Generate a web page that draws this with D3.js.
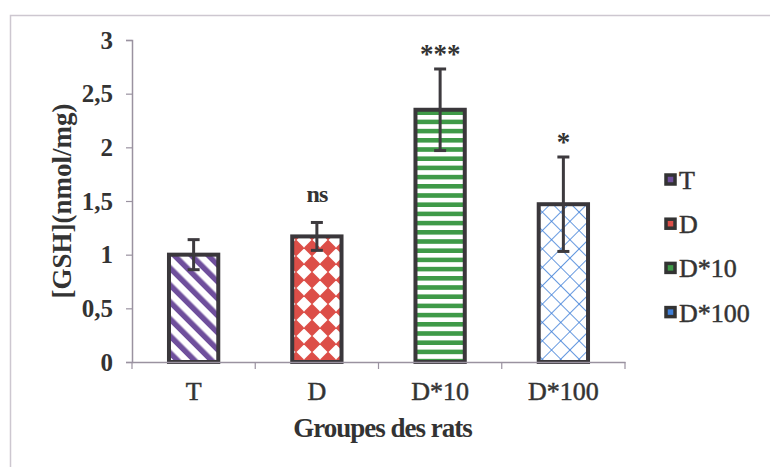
<!DOCTYPE html>
<html>
<head>
<meta charset="utf-8">
<script src="https://cdn.jsdelivr.net/npm/d3@7"></script>
<style>
  body { margin: 0; background: #fff; }
  svg { display: block; }
  text { font-family: "Liberation Serif", "DejaVu Serif", serif; fill: #333; }
</style>
</head>
<body>
<div id="chart"></div>
<script>
// GSH levels per rat group, with error bars and significance marks
const groups = ['T', 'D', 'D*10', 'D*100'];
const means = [1.0, 1.17, 2.35, 1.47];
const errors = [0.14, 0.13, 0.38, 0.44];
const signif = ['', 'ns', '***', '*'];
const yTicks = [0, 0.5, 1, 1.5, 2, 2.5, 3];

const width = 770;
const height = 467;
const margin = { top: 40, right: 145, bottom: 105, left: 132 };

const colors = {
    'T': '#6f4f9c',
    'D': '#dc4e48',
    'D*10': '#3f9a48',
    'D*100': '#3f7fd8'
};

const svg = d3.select('#chart')
    .append('svg')
    .attr('width', width)
    .attr('height', height);

// outer frame
svg.append('rect')
    .attr('x', 10.5).attr('y', 15.5)
    .attr('width', 780).attr('height', 480)
    .attr('fill', 'none')
    .attr('stroke', '#cdc7d0')
    .attr('stroke-width', 1.5);

// patterns
const defs = svg.append('defs');

// T: diagonal stripes (\)
const pT = defs.append('pattern')
    .attr('id', 'pat-T')
    .attr('patternUnits', 'userSpaceOnUse')
    .attr('width', 12).attr('height', 12)
    .attr('patternTransform', 'rotate(-45)');
pT.append('rect').attr('width', 12).attr('height', 12).attr('fill', '#fff');
pT.append('rect').attr('x', 0).attr('width', 5.5).attr('height', 12).attr('fill', colors['T']);

// D: diamonds
const pD = defs.append('pattern')
    .attr('id', 'pat-D')
    .attr('patternUnits', 'userSpaceOnUse')
    .attr('width', 16).attr('height', 16);
pD.append('rect').attr('width', 16).attr('height', 16).attr('fill', '#fff');
pD.append('path').attr('d', 'M8,-0.5 L16.5,8 L8,16.5 L-0.5,8 Z').attr('fill', colors['D']);

// D*10: horizontal stripes
const p10 = defs.append('pattern')
    .attr('id', 'pat-D*10')
    .attr('patternUnits', 'userSpaceOnUse')
    .attr('width', 8).attr('height', 9.2);
p10.append('rect').attr('width', 8).attr('height', 9.2).attr('fill', '#fff');
p10.append('rect').attr('y', 0).attr('width', 8).attr('height', 4.6).attr('fill', colors['D*10']);

// D*100: crosshatch
const p100 = defs.append('pattern')
    .attr('id', 'pat-D*100')
    .attr('patternUnits', 'userSpaceOnUse')
    .attr('width', 13).attr('height', 13)
    .attr('patternTransform', 'rotate(45)');
p100.append('rect').attr('width', 13).attr('height', 13).attr('fill', '#fff');
p100.append('line').attr('x1', 0).attr('y1', 0).attr('x2', 0).attr('y2', 13)
    .attr('stroke', colors['D*100']).attr('stroke-width', 1.6);
p100.append('line').attr('x1', 0).attr('y1', 0).attr('x2', 13).attr('y2', 0)
    .attr('stroke', colors['D*100']).attr('stroke-width', 1.6);

// scales
const x = d3.scaleBand()
    .domain(groups)
    .range([margin.left, width - margin.right]);

const y = d3.scaleLinear()
    .domain([0, 3])
    .range([height - margin.bottom, margin.top]);

const barW = x.bandwidth() * 0.4;
const data = groups.map((g, i) => ({ g, m: means[i], e: errors[i], s: signif[i] }));

// y axis
const yAxis = svg.append('g')
    .attr('transform', `translate(${margin.left},0)`)
    .call(d3.axisLeft(y).tickValues(yTicks).tickSize(6).tickPadding(13)
        .tickFormat(d => String(d).replace('.', ',')));
yAxis.select('.domain').attr('stroke', '#9a92a0').attr('stroke-width', 1.5);
yAxis.selectAll('.tick line').attr('stroke', '#9a92a0').attr('stroke-width', 1.2);
yAxis.selectAll('.tick text')
    .attr('font-size', 25)
    .attr('font-weight', 'bold')
    .attr('font-family', '"Liberation Serif", serif')
    .attr('fill', '#383838');

// bars
svg.append('g')
    .selectAll('rect')
    .data(data)
    .enter()
    .append('rect')
    .attr('x', d => x(d.g) + (x.bandwidth() - barW) / 2)
    .attr('y', d => y(d.m))
    .attr('width', barW)
    .attr('height', d => y(0) - y(d.m))
    .attr('fill', d => `url(#pat-${d.g})`)
    .attr('stroke', '#3a373b')
    .attr('stroke-width', 4);

// x axis (after bars so baseline sits over them)
const xAxis = svg.append('g')
    .attr('transform', `translate(0,${y(0)})`)
    .call(d3.axisBottom(x).tickSize(0).tickPadding(20));
xAxis.select('.domain').attr('stroke', '#9a92a0').attr('stroke-width', 1.5);
xAxis.selectAll('.tick text')
    .attr('font-size', 26)
    .attr('font-family', '"Liberation Serif", serif')
    .attr('fill', '#383838')
    .attr('stroke', '#383838')
    .attr('stroke-width', 0.5);
xAxis.selectAll('.bound')
    .data(groups.concat(['end']))
    .enter()
    .append('line')
    .attr('class', 'bound')
    .attr('x1', (d, i) => i < groups.length ? x(d) : x(groups[groups.length - 1]) + x.bandwidth())
    .attr('x2', (d, i) => i < groups.length ? x(d) : x(groups[groups.length - 1]) + x.bandwidth())
    .attr('y1', 0).attr('y2', 7)
    .attr('stroke', '#9a92a0').attr('stroke-width', 1.2);

// error bars
const eb = svg.append('g')
    .attr('stroke', '#3d3a3e')
    .attr('stroke-width', 3);
data.forEach(d => {
    const cx = x(d.g) + x.bandwidth() / 2;
    eb.append('line').attr('x1', cx).attr('x2', cx).attr('y1', y(d.m - d.e)).attr('y2', y(d.m + d.e));
    eb.append('line').attr('x1', cx - 6).attr('x2', cx + 6).attr('y1', y(d.m + d.e)).attr('y2', y(d.m + d.e));
    eb.append('line').attr('x1', cx - 6).attr('x2', cx + 6).attr('y1', y(d.m - d.e)).attr('y2', y(d.m - d.e));
});

// significance labels
svg.append('g')
    .selectAll('text')
    .data(data.filter(d => d.s))
    .enter()
    .append('text')
    .attr('x', d => x(d.g) + x.bandwidth() / 2)
    .attr('y', d => y(d.m + d.e) - (d.s === 'ns' ? 20 : 6))
    .attr('text-anchor', 'middle')
    .attr('font-size', d => d.s === 'ns' ? 24 : 27)
    .attr('font-weight', 'bold')
    .attr('letter-spacing', d => d.s === 'ns' ? -1 : 0)
    .attr('fill', '#3a3a3a')
    .text(d => d.s);

// axis titles
svg.append('text')
    .attr('x', (margin.left + width - margin.right) / 2 + 4)
    .attr('y', 437)
    .attr('text-anchor', 'middle')
    .attr('font-size', 27)
    .attr('font-weight', 'bold')
    .attr('letter-spacing', -1)
    .attr('fill', '#444')
    .text('Groupes des rats');

svg.append('text')
    .attr('transform', `translate(71,${(y(0) + y(3)) / 2}) rotate(-90)`)
    .attr('text-anchor', 'middle')
    .attr('font-size', 27)
    .attr('font-weight', 'bold')
    .attr('fill', '#383838')
    .text('[GSH](nmol/mg)');

// legend
const legend = svg.append('g')
    .attr('transform', 'translate(666,180)');
const li = legend.selectAll('g')
    .data(groups)
    .enter()
    .append('g')
    .attr('transform', (d, i) => `translate(0,${i * 44.2})`);
li.append('rect')
    .attr('x', 0).attr('y', -5)
    .attr('width', 9).attr('height', 9)
    .attr('fill', d => colors[d])
    .attr('stroke', '#333')
    .attr('stroke-width', 3.5);
li.append('text')
    .attr('x', 13)
    .attr('y', 9)
    .attr('font-size', 26)
    .attr('fill', '#383838')
    .attr('stroke', '#383838')
    .attr('stroke-width', 0.5)
    .text(d => d);
</script>
</body>
</html>
